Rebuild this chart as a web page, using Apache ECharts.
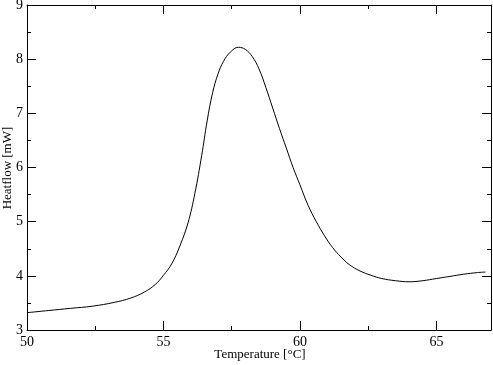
<!DOCTYPE html>
<html lang="en">
<head>
    <meta charset="UTF-8">
    <title>Heatflow</title>
    <script src="https://cdn.jsdelivr.net/npm/echarts@6/dist/echarts.min.js"></script>
    <style>
        html, body { margin: 0; padding: 0; background: #fff; }
        #chart { width: 493px; height: 365px; }
    </style>
</head>
<body>
    <div id="chart"></div>
    <script>
        // temperature in degC, heat flow in mW
        var temperature = [50.0, 50.8, 51.6, 52.4, 53.2, 53.8, 54.3, 54.7, 55.0, 55.3, 55.6, 55.9, 56.15, 56.4, 56.6, 56.8, 57.0, 57.2, 57.45, 57.75, 58.0, 58.25, 58.5, 58.75, 59.0, 59.25, 59.5, 59.75, 60.0, 60.3, 60.6, 60.9, 61.2, 61.5, 61.8, 62.2, 62.6, 63.0, 63.5, 64.0, 64.5, 65.0, 65.5, 66.0, 66.5, 66.8];
        var heatflow = [3.32, 3.36, 3.40, 3.44, 3.51, 3.59, 3.70, 3.84, 4.01, 4.22, 4.55, 4.98, 5.52, 6.22, 6.86, 7.38, 7.73, 7.96, 8.13, 8.22, 8.18, 8.05, 7.82, 7.48, 7.10, 6.72, 6.36, 6.00, 5.68, 5.30, 5.00, 4.74, 4.52, 4.35, 4.21, 4.09, 4.01, 3.95, 3.91, 3.89, 3.91, 3.95, 3.99, 4.03, 4.06, 4.07];
        var xTicks = [50, 55, 60, 65];
        var xTitle = 'Temperature [\u00B0C]';
        var yTitle = 'Heatflow [mW]';

        var points = [];
        for (var i = 0; i < temperature.length; i++)
            points.push([temperature[i], heatflow[i]]);

        var font = 'Liberation Serif';

        function xAxis(pos, labels) {
            return {
                type: 'value', position: pos, min: 50, max: 67, interval: 5,
                axisLine: { onZero: false, lineStyle: { color: '#000', width: 1 } },
                axisTick: { show: true, inside: true, length: 9, lineStyle: { color: '#000' } },
                minorTick: { show: true, splitNumber: 2, length: 4, lineStyle: { color: '#000' } },
                splitLine: { show: false },
                axisLabel: {
                    show: labels, color: '#000', fontFamily: font, fontSize: 14, margin: 5,
                    formatter: function (v) { return xTicks.indexOf(v) >= 0 ? String(v) : ''; }
                }
            };
        }
        function yAxis(pos, labels) {
            return {
                type: 'value', position: pos, min: 3, max: 9, interval: 1,
                axisLine: { onZero: false, lineStyle: { color: '#000', width: 1 } },
                axisTick: { show: true, inside: true, length: 9, lineStyle: { color: '#000' } },
                minorTick: { show: true, splitNumber: 2, length: 4, lineStyle: { color: '#000' } },
                splitLine: { show: false },
                axisLabel: { show: labels, color: '#000', fontFamily: font, fontSize: 14, margin: 4 }
            };
        }

        var chart = echarts.init(document.getElementById('chart'));
        chart.setOption({
            animation: false,
            backgroundColor: '#fff',
            grid: { left: 27, right: 2, top: 5, bottom: 35, containLabel: false, outerBoundsMode: 'none' },
            xAxis: [xAxis('bottom', true), xAxis('top', false)],
            yAxis: [yAxis('left', true), yAxis('right', false)],
            // axis titles
            graphic: [
                { type: 'text', x: 260, y: 355, style: { text: xTitle, fill: '#000', font: '13px "Liberation Serif"', align: 'center', verticalAlign: 'middle' } },
                { type: 'text', x: 8, y: 168, rotation: Math.PI / 2, style: { text: yTitle, fill: '#000', font: '13px "Liberation Serif"', align: 'center', verticalAlign: 'middle' } }
            ],
            series: [{
                type: 'line',
                data: points,
                showSymbol: false,
                smooth: 0.4,
                lineStyle: { color: '#000', width: 1 }
            }]
        });
    </script>
</body>
</html>
